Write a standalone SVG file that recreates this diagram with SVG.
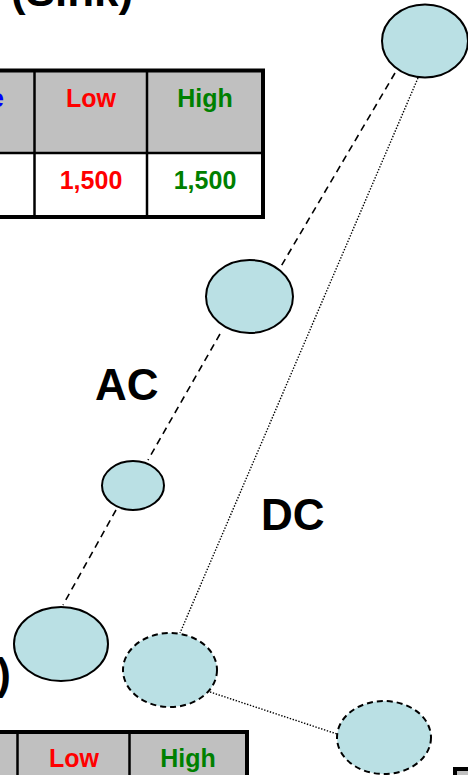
<svg xmlns="http://www.w3.org/2000/svg" width="468" height="775" viewBox="0 0 468 775">
<style>
text{font-family:"Liberation Sans",Arial,sans-serif;font-weight:bold}
.big{font-size:44px;fill:#000}
.cell{font-size:25px;text-anchor:middle}
.red{fill:#FF0000}.green{fill:#008000}.blue{fill:#0000FF}
.node{fill:#BAE0E4;stroke:#000;stroke-width:2}
.dnode{fill:#BAE0E4;stroke:#000;stroke-width:2;stroke-dasharray:6 4}
.ac{stroke:#000;stroke-width:1.6;stroke-dasharray:7 5;fill:none}
.dc{stroke:#000;stroke-width:1.4;stroke-dasharray:1.4 1.6;fill:none}
.hdr{fill:#C0C0C0}
.grid{stroke:#000;stroke-width:2.5}
.frame{fill:none;stroke:#000;stroke-width:4}
</style>

<!-- titles -->
<text class="big" x="11" y="6">(Sink)</text>
<text class="big" x="11" y="689" text-anchor="end">)</text>

<!-- top table -->
<g id="table-top">
  <rect class="hdr" x="-10" y="70.5" width="273" height="82.5"/>
  <rect x="-10" y="153" width="273" height="64" fill="#fff"/>
  <line class="grid" x1="-10" y1="153" x2="263" y2="153"/>
  <line class="grid" x1="34.5" y1="70.5" x2="34.5" y2="217"/>
  <line class="grid" x1="147" y1="70.5" x2="147" y2="217"/>
  <rect class="frame" x="-10" y="70.5" width="273" height="146.5"/>
  <text class="cell blue" x="-3" y="107">e</text>
  <text class="cell red" x="91" y="107">Low</text>
  <text class="cell green" x="205" y="107">High</text>
  <text class="cell red" x="91" y="189">1,500</text>
  <text class="cell green" x="205" y="189">1,500</text>
</g>

<!-- bottom table -->
<g id="table-bottom">
  <rect class="hdr" x="-10" y="732" width="257" height="60"/>
  <line class="grid" x1="17.5" y1="732" x2="17.5" y2="790"/>
  <line class="grid" x1="129.5" y1="732" x2="129.5" y2="790"/>
  <rect class="frame" x="-10" y="732" width="257" height="60"/>
  <text class="cell red" x="74" y="767">Low</text>
  <text class="cell green" x="188" y="767">High</text>
</g>

<!-- bottom-right table corner -->
<g id="table-right">
  <rect class="hdr" x="455" y="769" width="30" height="20"/>
  <rect class="frame" x="455" y="769" width="30" height="20"/>
</g>

<!-- connectors -->
<g id="connectors">
  <line class="ac" x1="395" y1="73" x2="280" y2="268"/>
  <line class="ac" x1="220" y1="334" x2="148" y2="460"/>
  <line class="ac" x1="116" y1="510" x2="63" y2="605"/>
  <line class="dc" x1="418" y1="78" x2="180" y2="633"/>
  <line class="dc" x1="210" y1="692" x2="337" y2="734"/>
  <text class="big" x="95" y="400">AC</text>
  <text class="big" x="261" y="530">DC</text>
</g>

<!-- nodes -->
<g id="n1"><ellipse class="node" cx="425" cy="41" rx="43" ry="36.5"/></g>
<g id="n2"><ellipse class="node" cx="249.5" cy="296.5" rx="43.5" ry="36.5"/></g>
<g id="n3"><ellipse class="node" cx="133" cy="485.5" rx="31" ry="24.5"/></g>
<g id="n4"><ellipse class="node" cx="61" cy="644" rx="47" ry="37"/></g>
<g id="n5"><ellipse class="dnode" cx="170" cy="670" rx="47" ry="37"/></g>
<g id="n6"><ellipse class="dnode" cx="384" cy="737.5" rx="47" ry="36.5"/></g>
</svg>
